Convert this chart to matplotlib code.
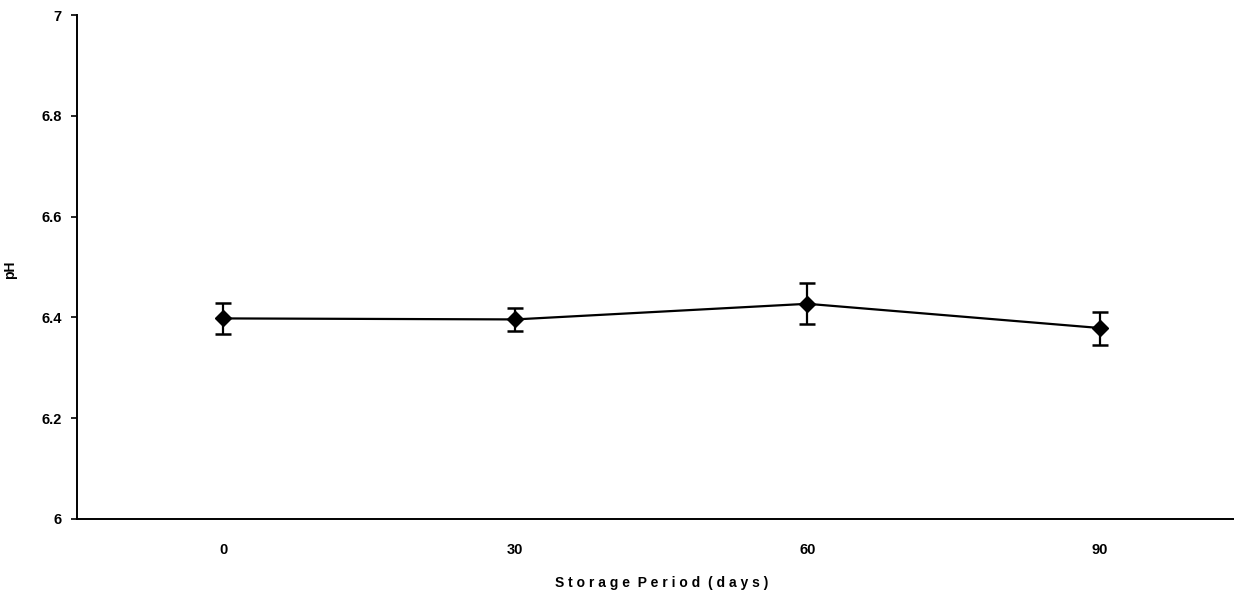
import numpy as np
import matplotlib
matplotlib.use('Agg')
import matplotlib.pyplot as plt

# Set plot text format
matplotlib.rc('font', family='Liberation Sans', size=10.5, weight='bold')

# Data
days = ['0', '30', '60', '90']
ph_mean = [6.398, 6.396, 6.427, 6.379]
ph_err_low = [0.030, 0.022, 0.040, 0.033]
ph_err_high = [0.030, 0.022, 0.042, 0.032]
y_ticks = [6, 6.2, 6.4, 6.6, 6.8, 7]
y_tick_labels = ['6', '6.2', '6.4', '6.6', '6.8', '7']

fig = plt.figure(figsize=(12.34, 5.96), dpi=100)
ax = fig.add_axes([0.0624, 0.1292, 0.947, 0.8456])

x = np.arange(len(days))
ax.errorbar(x, ph_mean, yerr=[ph_err_low, ph_err_high], color='black',
            linewidth=1.6, marker='D', markersize=8.5, capsize=6,
            capthick=1.8, elinewidth=1.6)

ax.set_xlim(-0.5, len(days) - 0.5)
ax.set_ylim(6, 7)
ax.set_xticks(x)
ax.set_xticklabels(days)
ax.set_yticks(y_ticks)
ax.set_yticklabels(y_tick_labels)
ax.tick_params(axis='x', length=0, pad=17)
ax.tick_params(axis='y', length=4, width=1.2, direction='out', pad=7)

for side in ['top', 'right']:
    ax.spines[side].set_visible(False)
for side in ['left', 'bottom']:
    ax.spines[side].set_linewidth(1.4)

ax.set_xlabel('S t o r a g e  P e r i o d  ( d a y s )', fontsize=10,
              fontweight='bold', labelpad=14)
ax.set_ylabel('pH', fontsize=10, fontweight='bold')
ax.yaxis.set_label_coords(-0.051, 0.494)

fig.savefig('out.png', dpi=100)
